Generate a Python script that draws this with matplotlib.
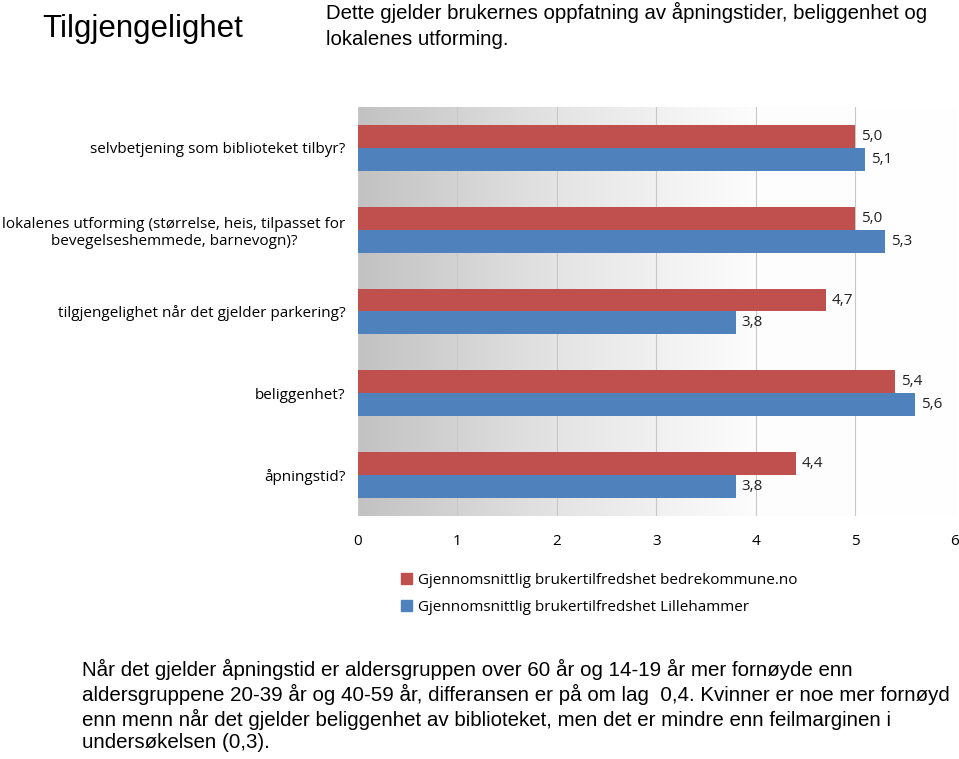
import numpy as np
import matplotlib
matplotlib.use("Agg")
import matplotlib.pyplot as plt
from matplotlib.colors import LinearSegmentedColormap
from matplotlib.patches import Rectangle

questions = [
    "selvbetjening som biblioteket tilbyr?",
    "lokalenes utforming (størrelse, heis, tilpasset for\nbevegelseshemmede, barnevogn)?",
    "tilgjengelighet når det gjelder parkering?",
    "beliggenhet?",
    "åpningstid?",
]
bedrekommune = [5.0, 5.0, 4.7, 5.4, 4.4]
lillehammer = [5.1, 5.3, 3.8, 5.6, 3.8]
series_names = [
    "Gjennomsnittlig brukertilfredshet bedrekommune.no",
    "Gjennomsnittlig brukertilfredshet Lillehammer",
]
x_ticks = [0, 1, 2, 3, 4, 5, 6]

title = "Tilgjengelighet"
subtitle = "Dette gjelder brukernes oppfatning av åpningstider, beliggenhet og\nlokalenes utforming."
footnote = ("Når det gjelder åpningstid er aldersgruppen over 60 år og 14-19 år mer fornøyde enn\n"
            "aldersgruppene 20-39 år og 40-59 år, differansen er på om lag  0,4. Kvinner er noe mer fornøyd\n"
            "enn menn når det gjelder beliggenhet av biblioteket, men det er mindre enn feilmarginen i\n"
            "undersøkelsen (0,3).")

RED = "#C0504D"
BLUE = "#4F81BD"
LABEL_FONT = ["Open Sans", "DejaVu Sans"]


def draw_chart():
    fig = plt.figure(figsize=(9.59, 7.59), dpi=100)
    ax = fig.add_axes([0.3733, 0.3202, 0.6225, 0.5389])

    # grey-to-white background gradient like the Excel plot area
    cmap = LinearSegmentedColormap.from_list("bg", ["#c2c2c2", "#e4e4e4", "#fdfdfd", "#ffffff"])
    grad = np.linspace(0, 1, 256).reshape(1, -1)
    ax.imshow(grad, extent=[0, 1, 0, 1], transform=ax.transAxes, aspect="auto",
              cmap=cmap, zorder=0)

    y = np.arange(len(questions))
    h = 0.28
    ax.barh(y - h / 2, bedrekommune, height=h, color=RED, label=series_names[0], zorder=3)
    ax.barh(y + h / 2, lillehammer, height=h, color=BLUE, label=series_names[1], zorder=3)

    for i in range(len(questions)):
        ax.annotate(f"{bedrekommune[i]:.1f}".replace(".", ","), (bedrekommune[i], y[i] - h / 2),
                    xytext=(4, 0), textcoords="offset points", va="center", ha="left",
                    fontsize=11, family=LABEL_FONT, color="#222222")
        ax.annotate(f"{lillehammer[i]:.1f}".replace(".", ","), (lillehammer[i], y[i] + h / 2),
                    xytext=(4, 0), textcoords="offset points", va="center", ha="left",
                    fontsize=11, family=LABEL_FONT, color="#222222")

    ax.set_xlim(0, 6)
    ax.set_ylim(len(questions) - 0.5, -0.5)
    ax.set_xticks(x_ticks)
    ax.set_xticklabels([str(t) for t in x_ticks], fontsize=11, family=LABEL_FONT)
    ax.set_yticks(y)
    ax.set_yticklabels(questions, fontsize=11, family=LABEL_FONT, multialignment="center")
    ax.tick_params(axis="x", length=0, pad=13)
    ax.tick_params(axis="y", length=0, pad=9)
    for s in ax.spines.values():
        s.set_visible(False)
    ax.grid(axis="x", color="#c8c8c8", linewidth=0.8, zorder=1)
    ax.set_axisbelow(True)

    # legend, one entry per row under the axis
    handles = [Rectangle((0, 0), 1, 1, color=RED), Rectangle((0, 0), 1, 1, color=BLUE)]
    fig.legend(handles, series_names, loc="upper left", bbox_to_anchor=(0.404, 0.263),
               frameon=False, handlelength=0.7, handleheight=0.7, handletextpad=0.4,
               labelspacing=0.75, prop={"family": LABEL_FONT, "size": 11})

    fig.text(0.044, 0.962, title, fontsize=22.5, family="Liberation Sans", va="center", ha="left")
    fig.text(0.340, 0.997, subtitle, fontsize=14.7, family="Liberation Sans", va="top", ha="left",
             linespacing=1.45)
    fig.text(0.085, 0.0705, footnote, fontsize=14.8, family="Liberation Sans", va="center",
             ha="left", linespacing=1.24)

    fig.savefig("out.png", dpi=100)


def main():
    draw_chart()


if __name__ == "__main__":
    main()
